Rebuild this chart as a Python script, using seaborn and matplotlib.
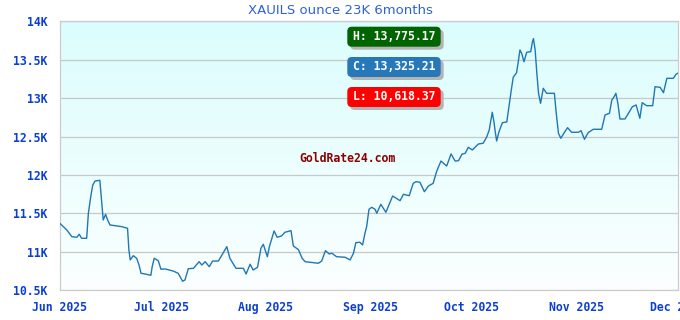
import numpy as np
import pandas as pd
import matplotlib
matplotlib.use("Agg")
import matplotlib.pyplot as plt
import matplotlib.dates as mdates
from matplotlib.patches import FancyBboxPatch
from matplotlib.ticker import FixedLocator, FixedFormatter
import seaborn as sns

# ---------------- data ----------------
start_date = "2025-06-01"
day_offsets = [0, 2, 3.5, 5, 5.7, 6.4, 7.9, 8.4, 9.1, 9.7, 10.4, 11.8, 12.3, 12.8, 13.5, 14.1,
               14.8, 16.3, 18.3, 20, 20.4, 20.8, 21.7, 22.7, 23.4, 24, 25.2, 26.9, 27.3, 27.9,
               29.1, 29.9, 31.1, 33.5, 35, 36.3, 37, 38, 39.5, 41.2, 42, 43, 44.2, 45.2, 46.9,
               49.4, 50.3, 52.1, 54.3, 55.1, 56.3, 57.2, 58.5, 59.5, 60.2, 61.4, 62, 63.4, 64.3,
               65.6, 66.6, 68.4, 69.1, 70.6, 71.7, 72.6, 74.6, 76.5, 77.5, 78.6, 79.7, 80.5,
               81.9, 84.4, 85.9, 86.9, 87.6, 88.8, 89.6, 90.3, 90.8, 91.5, 92.3, 93.3, 93.8,
               95, 96.5, 98.5, 100.7, 101.7, 103.4, 104.6, 105.4, 106.6, 107.9, 109.1, 110.5,
               111.5, 112.8, 114.5, 115.8, 117, 118, 119, 120, 120.9, 122.1, 123.9, 125.3,
               126.4, 127.1, 128, 128.5, 128.8, 129.3, 130, 131, 132.3, 132.8, 133.5, 134.2,
               135.2, 135.7, 136.2, 136.7, 137.4, 138.2, 139.4, 139.9, 140.2, 140.7, 141.2,
               141.7, 142.3, 143.1, 144.1, 146.4, 146.9, 147.6, 148.3, 149.5, 150.3, 151.5,
               153.5, 154.3, 155.3, 156.4, 157.9, 160.4, 161.4, 162.7, 163.4, 164.1, 164.6,
               165.2, 165.8, 167.3, 168.3, 169.5, 170.6, 171.7, 172.4, 173.7, 175.5, 176.2,
               177.7, 178.7, 179.7, 181.6, 182.4, 182.9]
prices = [11370, 11285, 11198, 11190, 11229, 11177, 11177, 11502, 11718, 11870, 11922, 11931,
          11675, 11415, 11489, 11415, 11350, 11341, 11328, 11307, 11025, 10895, 10950, 10917,
          10829, 10721, 10712, 10695, 10807, 10917, 10885, 10774, 10778, 10751, 10721, 10618,
          10634, 10781, 10786, 10872, 10829, 10872, 10807, 10881, 10881, 11068, 10917, 10786,
          10786, 10712, 10839, 10764, 10800, 11047, 11099, 10937, 11068, 11272, 11190, 11207,
          11255, 11276, 11077, 11029, 10917, 10872, 10862, 10852, 10881, 11016, 10973, 10982,
          10937, 10930, 10895, 10982, 11120, 11125, 11090, 11242, 11328, 11554, 11580, 11554,
          11502, 11619, 11515, 11727, 11666, 11749, 11731, 11892, 11913, 11905, 11783, 11857,
          11892, 12043, 12182, 12117, 12274, 12182, 12186, 12270, 12283, 12361, 12326, 12404,
          12413, 12499, 12586, 12816, 12694, 12586, 12443, 12564, 12681, 12690, 12846, 13063,
          13271, 13331, 13474, 13627, 13584, 13474, 13597, 13605, 13735, 13775, 13627, 13323,
          13063, 12933, 13128, 13063, 13063, 12824, 12543, 12478, 12564, 12616, 12556, 12556,
          12577, 12465, 12551, 12595, 12595, 12781, 12803, 12976, 13019, 13063, 12933, 12729,
          12729, 12803, 12889, 12911, 12738, 12941, 12902, 12902, 13149, 13141, 13071, 13258,
          13258, 13310, 13325]

title_text = "XAUILS ounce 23K 6months"
y_ticks = [10500, 11000, 11500, 12000, 12500, 13000, 13500, 14000]
y_tick_labels = ["10.5K", "11K", "11.5K", "12K", "12.5K", "13K", "13.5K", "14K"]
x_tick_dates = ["2025-06-01", "2025-07-01", "2025-08-01", "2025-09-01",
                "2025-10-01", "2025-11-01", "2025-12-01"]
x_tick_labels = ["Jun 2025", "Jul 2025", "Aug 2025", "Sep 2025",
                 "Oct 2025", "Nov 2025", "Dec 2025"]
high_label = "H: 13,775.17"
close_label = "C: 13,325.21"
low_label = "L: 10,618.37"
watermark = "GoldRate24.com"

dates = pd.Timestamp(start_date) + pd.to_timedelta(day_offsets, unit="D")
df = pd.DataFrame({"date": dates, "price": prices})

# ---------------- style ----------------
sns.set_theme(style="white")
plt.rcParams["font.family"] = ["DejaVu Sans"]

W, H = 680, 320
fig = plt.figure(figsize=(W / 100, H / 100), dpi=100)
L, R, T, B = 60, 678, 21.3, 290.3
ax = fig.add_axes([L / W, 1 - B / H, (R - L) / W, (B - T) / H])

# gradient background
grad = np.linspace(0, 1, 256).reshape(-1, 1)
top_c = np.array([219, 253, 253]) / 255
bot_c = np.array([251, 255, 255]) / 255
img = top_c * (1 - grad)[..., None] + bot_c * grad[..., None]
img = img.reshape(256, 1, 3)
ax.imshow(img, extent=[0, 1, 0, 1], transform=ax.transAxes, aspect="auto", zorder=0)

sns.lineplot(data=df, x="date", y="price", ax=ax, color="#1f77b4", linewidth=1.0,
             zorder=3, sort=False, estimator=None)

ax.set_xlim(pd.Timestamp(x_tick_dates[0]), pd.Timestamp(x_tick_dates[-1]))
ax.set_ylim(y_ticks[0], y_ticks[-1])
ax.set_xlabel("")
ax.set_ylabel("")

ax.yaxis.set_major_locator(FixedLocator(y_ticks))
ax.yaxis.set_major_formatter(FixedFormatter(y_tick_labels))
ax.xaxis.set_major_locator(FixedLocator(mdates.date2num(pd.to_datetime(x_tick_dates))))
ax.xaxis.set_major_formatter(FixedFormatter(x_tick_labels))

tick_color = "#0b3fd0"
tick_font = dict(family="DejaVu Sans Mono", weight="bold", size=8.3)
for lab in ax.get_yticklabels():
    lab.set_color(tick_color)
    lab.set_fontfamily(tick_font["family"]); lab.set_fontweight("bold"); lab.set_fontsize(tick_font["size"])
for lab in ax.get_xticklabels():
    lab.set_color(tick_color)
    lab.set_fontfamily(tick_font["family"]); lab.set_fontweight("bold"); lab.set_fontsize(tick_font["size"])
ax.tick_params(axis="y", length=0, pad=9)
ax.tick_params(axis="x", length=0, pad=8)

ax.grid(axis="y", color="#c8c8c8", linewidth=0.9, zorder=1)
ax.grid(axis="x", visible=False)
for s in ax.spines.values():
    s.set_color("#cccccc")
    s.set_linewidth(0.9)

# title
fig.text(0.5, 1 - 11 / H, title_text, ha="center", va="center", color="#2f62d6",
         fontsize=9.5, family="DejaVu Sans")

# watermark
fig.text(348 / W, 1 - 158 / H, watermark, ha="center", va="center", color="#8b0000",
         family="DejaVu Sans Mono", weight="bold", fontsize=8.3, zorder=2)

# summary boxes (in pixel-ish inch units)
def label_box(cy_px, text, color):
    x0, x1 = 347.3, 440.7
    h = 20
    y0 = H - (cy_px + h / 2)
    tr = fig.dpi_scale_trans
    shadow = FancyBboxPatch(((x0 + 3) / 100, (y0 - 3) / 100), (x1 - x0) / 100, h / 100,
                            boxstyle="round,pad=0,rounding_size=0.045",
                            transform=tr, fc="#b4b4b4", ec="none", zorder=5)
    box = FancyBboxPatch((x0 / 100, y0 / 100), (x1 - x0) / 100, h / 100,
                         boxstyle="round,pad=0,rounding_size=0.045",
                         transform=tr, fc=color, ec="none", zorder=6)
    fig.patches.extend([shadow, box])
    fig.text((x0 + x1) / 2 / W, 1 - cy_px / H, text, ha="center", va="center",
             color="white", family="DejaVu Sans Mono", weight="bold", fontsize=8.3, zorder=7)

label_box(36.7, high_label, "#006400")
label_box(67.0, close_label, "#2678b8")
label_box(97.0, low_label, "#ff0000")

fig.savefig("out.png", dpi=100)
